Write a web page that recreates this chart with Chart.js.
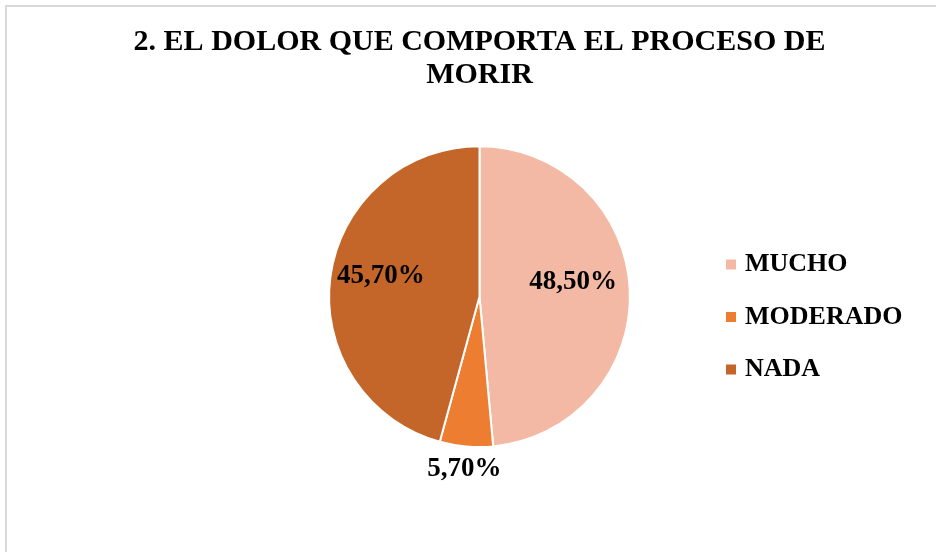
<!DOCTYPE html>
<html>
<head>
<meta charset="utf-8">
<script src="https://cdn.jsdelivr.net/npm/chart.js@4"></script>
<style>
  html, body { margin:0; padding:0; background:#fff; overflow:hidden; }
  #wrap { position:relative; width:936px; height:552px; }
  #frame { position:absolute; left:5px; top:5px; width:960px; height:600px;
           border-left:2px solid #d9d9d9; border-top:2px solid #d9d9d9; pointer-events:none; }
  canvas { position:absolute; left:0; top:0; }
</style>
</head>
<body>
<div id="wrap">
  <canvas id="chart" width="936" height="552"></canvas>
  <div id="frame"></div>
</div>
<script>
const titleLines = ['2. EL DOLOR QUE COMPORTA EL PROCESO DE', 'MORIR'];
const categories = ['MUCHO', 'MODERADO', 'NADA'];
const values = [48.5, 5.7, 45.7];
const colors = ['#F4B9A4', '#ED7D31', '#C4652A'];

const FONT = "'Liberation Serif', 'Times New Roman', serif";

// where each percentage label sits: fraction of radius + small angle nudge (deg)
const labelRadius = [0.63, 1.15, 0.67];
const labelNudge = [-6, 0, 4];

const fmt = v => v.toFixed(2).replace('.', ',') + '%';

const pctLabels = {
  id:'pctLabels',
  afterDatasetsDraw(chart){
    const ctx = chart.ctx;
    const arcs = chart.getDatasetMeta(0).data;
    ctx.save();
    ctx.font = 'bold 27px ' + FONT;
    ctx.fillStyle = '#000';
    ctx.textAlign = 'center';
    ctx.textBaseline = 'middle';
    arcs.forEach((arc, i) => {
      const p = arc.getProps(['x','y','startAngle','endAngle','outerRadius'], true);
      const a = (p.startAngle + p.endAngle) / 2 + labelNudge[i] * Math.PI / 180;
      const r = p.outerRadius * labelRadius[i];
      ctx.fillText(fmt(values[i]), p.x + Math.cos(a) * r, p.y + Math.sin(a) * r);
    });
    ctx.restore();
  }
};

const sideLegend = {
  id:'sideLegend',
  afterDraw(chart){
    const ctx = chart.ctx;
    const x0 = 726, y0 = 264.5, step = 52.5, box = 10;
    ctx.save();
    ctx.font = 'bold 26px ' + FONT;
    ctx.textBaseline = 'middle';
    ctx.textAlign = 'left';
    categories.forEach((c, i) => {
      const y = y0 + i * step;
      ctx.fillStyle = colors[i];
      ctx.fillRect(x0, y - box / 2, box, box);
      ctx.fillStyle = '#000';
      ctx.fillText(c, x0 + 19, y);
    });
    ctx.restore();
  }
};

new Chart(document.getElementById('chart'), {
  type:'pie',
  data:{
    labels: categories,
    datasets:[{ data: values, backgroundColor: colors, borderColor:'#fff', borderWidth:2 }]
  },
  options:{
    responsive:false,
    animation:false,
    layout:{ padding:{ left:23, right:0, top:0, bottom:104 } },
    plugins:{
      legend:{ display:false },
      tooltip:{ enabled:false },
      title:{
        display:true,
        text: titleLines,
        color:'#000',
        font:{ family: FONT, size:30, weight:'bold', lineHeight:1.12 },
        padding:{ top:25, bottom:53 }
      }
    }
  },
  plugins:[pctLabels, sideLegend]
});
</script>
</body>
</html>
